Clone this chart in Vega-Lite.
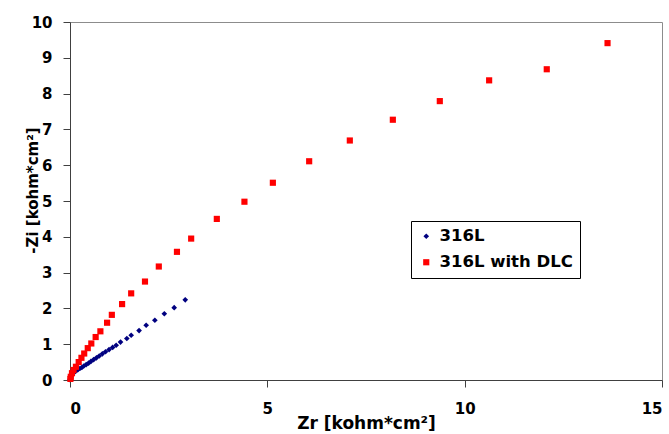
{
  "$schema": "https://vega.github.io/schema/vega-lite/v6.json",
  "width": 592,
  "height": 358,
  "autosize": {"type": "none"},
  "padding": {"left": 70, "top": 22, "right": 7, "bottom": 54},
  "background": "white",
  "config": {
    "view": {"stroke": "#8c8c8c", "strokeWidth": 1},
    "font": "DejaVu Sans",
    "axis": {
      "grid": false,
      "domainColor": "#404040",
      "tickColor": "#404040",
      "tickSize": 7,
      "labelFont": "DejaVu Sans",
      "labelFontWeight": "bold",
      "labelFontSize": 15,
      "labelColor": "black",
      "titleFont": "DejaVu Sans",
      "titleFontWeight": "bold",
      "titleFontSize": 17,
      "titleColor": "black"
    }
  },
  "data": {
    "values": [
      {"series": "316L", "zr": 0.00, "zi": 0.01},
      {"series": "316L", "zr": 0.01, "zi": 0.04},
      {"series": "316L", "zr": 0.02, "zi": 0.08},
      {"series": "316L", "zr": 0.04, "zi": 0.12},
      {"series": "316L", "zr": 0.06, "zi": 0.16},
      {"series": "316L", "zr": 0.09, "zi": 0.20},
      {"series": "316L", "zr": 0.12, "zi": 0.23},
      {"series": "316L", "zr": 0.16, "zi": 0.26},
      {"series": "316L", "zr": 0.20, "zi": 0.29},
      {"series": "316L", "zr": 0.25, "zi": 0.32},
      {"series": "316L", "zr": 0.30, "zi": 0.35},
      {"series": "316L", "zr": 0.35, "zi": 0.39},
      {"series": "316L", "zr": 0.41, "zi": 0.43},
      {"series": "316L", "zr": 0.47, "zi": 0.47},
      {"series": "316L", "zr": 0.53, "zi": 0.52},
      {"series": "316L", "zr": 0.60, "zi": 0.57},
      {"series": "316L", "zr": 0.67, "zi": 0.62},
      {"series": "316L", "zr": 0.74, "zi": 0.67},
      {"series": "316L", "zr": 0.82, "zi": 0.73},
      {"series": "316L", "zr": 0.90, "zi": 0.79},
      {"series": "316L", "zr": 0.99, "zi": 0.85},
      {"series": "316L", "zr": 1.08, "zi": 0.91},
      {"series": "316L", "zr": 1.17, "zi": 0.97},
      {"series": "316L", "zr": 1.28, "zi": 1.06},
      {"series": "316L", "zr": 1.44, "zi": 1.16},
      {"series": "316L", "zr": 1.55, "zi": 1.25},
      {"series": "316L", "zr": 1.75, "zi": 1.38},
      {"series": "316L", "zr": 1.93, "zi": 1.53},
      {"series": "316L", "zr": 2.15, "zi": 1.67},
      {"series": "316L", "zr": 2.39, "zi": 1.85},
      {"series": "316L", "zr": 2.64, "zi": 2.02},
      {"series": "316L", "zr": 2.92, "zi": 2.24},
      {"series": "316L with DLC", "zr": 0.01, "zi": 0.03},
      {"series": "316L with DLC", "zr": 0.02, "zi": 0.09},
      {"series": "316L with DLC", "zr": 0.05, "zi": 0.19},
      {"series": "316L with DLC", "zr": 0.09, "zi": 0.28},
      {"series": "316L with DLC", "zr": 0.15, "zi": 0.37},
      {"series": "316L with DLC", "zr": 0.22, "zi": 0.50},
      {"series": "316L with DLC", "zr": 0.29, "zi": 0.62},
      {"series": "316L with DLC", "zr": 0.36, "zi": 0.74},
      {"series": "316L with DLC", "zr": 0.45, "zi": 0.89},
      {"series": "316L with DLC", "zr": 0.54, "zi": 1.02},
      {"series": "316L with DLC", "zr": 0.65, "zi": 1.20},
      {"series": "316L with DLC", "zr": 0.77, "zi": 1.36},
      {"series": "316L with DLC", "zr": 0.94, "zi": 1.60},
      {"series": "316L with DLC", "zr": 1.06, "zi": 1.82},
      {"series": "316L with DLC", "zr": 1.32, "zi": 2.12},
      {"series": "316L with DLC", "zr": 1.55, "zi": 2.42},
      {"series": "316L with DLC", "zr": 1.90, "zi": 2.75},
      {"series": "316L with DLC", "zr": 2.25, "zi": 3.17},
      {"series": "316L with DLC", "zr": 2.71, "zi": 3.58},
      {"series": "316L with DLC", "zr": 3.07, "zi": 3.95},
      {"series": "316L with DLC", "zr": 3.72, "zi": 4.50},
      {"series": "316L with DLC", "zr": 4.42, "zi": 4.98},
      {"series": "316L with DLC", "zr": 5.14, "zi": 5.51},
      {"series": "316L with DLC", "zr": 6.06, "zi": 6.11},
      {"series": "316L with DLC", "zr": 7.09, "zi": 6.69},
      {"series": "316L with DLC", "zr": 8.18, "zi": 7.27},
      {"series": "316L with DLC", "zr": 9.37, "zi": 7.79},
      {"series": "316L with DLC", "zr": 10.62, "zi": 8.37},
      {"series": "316L with DLC", "zr": 12.08, "zi": 8.68},
      {"series": "316L with DLC", "zr": 13.62, "zi": 9.41}
    ]
  },
  "mark": {"type": "point", "filled": true, "opacity": 1},
  "encoding": {
    "x": {
      "field": "zr",
      "type": "quantitative",
      "scale": {"domain": [0, 15], "nice": false, "zero": true},
      "axis": {
        "values": [0, 5, 10, 15],
        "title": "Zr [kohm*cm²]",
        "labelPadding": 14,
        "titleX": 296,
        "titleY": 43,
        "titleBaseline": "middle",
        "titleAnchor": "middle",
        "titleAlign": "center"
      }
    },
    "y": {
      "field": "zi",
      "type": "quantitative",
      "scale": {"domain": [0, 10], "nice": false},
      "axis": {
        "values": [0, 1, 2, 3, 4, 5, 6, 7, 8, 9, 10],
        "title": "-Zi [kohm*cm²]",
        "titleFontSize": 15,
        "labelPadding": 11,
        "titleAngle": -90,
        "titleX": -38,
        "titleY": 168,
        "titleBaseline": "middle",
        "titleAlign": "center"
      }
    },
    "color": {
      "field": "series",
      "type": "nominal",
      "scale": {"domain": ["316L", "316L with DLC"], "range": ["#000080", "#ff0000"]},
      "legend": {
        "title": null,
        "orient": "none",
        "legendX": 341,
        "legendY": 199,
        "strokeColor": "black",
        "fillColor": "white",
        "padding": 7,
        "rowPadding": 9,
        "labelFont": "DejaVu Sans",
        "labelFontWeight": "bold",
        "labelFontSize": 16.5,
        "labelColor": "black",
        "labelOffset": 5,
        "symbolSize": 25,
        "symbolStrokeWidth": 0
      }
    },
    "shape": {
      "field": "series",
      "type": "nominal",
      "scale": {"domain": ["316L", "316L with DLC"], "range": ["diamond", "square"]},
      "legend": null
    },
    "size": {
      "field": "series",
      "type": "nominal",
      "scale": {"domain": ["316L", "316L with DLC"], "range": [32, 38]},
      "legend": null
    }
  }
}
